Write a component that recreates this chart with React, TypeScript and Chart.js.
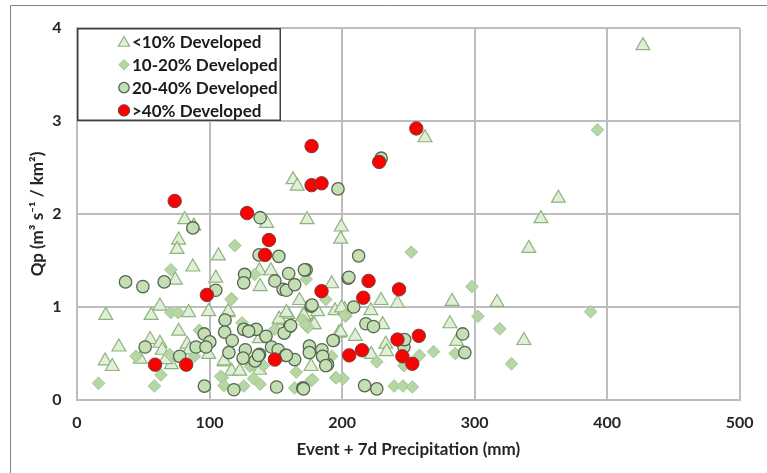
import React, { useEffect, useRef } from 'react';
import { Chart, registerables } from 'chart.js';

Chart.register(...registerables);

const seriesNames = ['<10% Developed', '10-20% Developed', '20-40% Developed', '>40% Developed'];

const xTicks = [0, 100, 200, 300, 400, 500];
const yTicks = [0, 1, 2, 3, 4];

const under10: number[][] = [
  [427, 3.81], [363.2, 2.17], [350, 1.95], [340.9, 1.63], [316.9, 1.05], [337.2, 0.64], [283, 1.06], [286.4, 0.63],
  [281.4, 0.82], [262.6, 2.82], [163, 2.37], [166.2, 2.3], [173.6, 1.94], [143.1, 1.9], [199.4, 1.86], [198.9, 1.73],
  [81.2, 1.94], [88.1, 1.87], [76.7, 1.72], [75.5, 1.62], [106.7, 1.55], [87.4, 1.43], [74.2, 1.29], [104.7, 1.31],
  [137.7, 1.39], [146.3, 1.39], [192.2, 1.25], [138.2, 1.22], [229.4, 1.07], [241.8, 1.04], [221.7, 0.96], [230.6, 0.81],
  [210, 0.685], [233, 0.6], [233.6, 0.52], [222, 0.49], [167.9, 1.07], [194.7, 0.96], [202, 0.97], [181.5, 0.95],
  [177.8, 0.81], [197.6, 0.72], [62.6, 1.01], [55.9, 0.91], [84.2, 0.94], [99.3, 0.95], [113.9, 0.94], [76.7, 0.74],
  [55.2, 0.65], [62.6, 0.61], [64.3, 0.535], [83.1, 0.6], [84.9, 0.54], [99.3, 0.49], [71.2, 0.38], [66.8, 0.435],
  [47.7, 0.44], [111.4, 0.41], [116.6, 0.31], [122.8, 0.31], [159.2, 0.92], [170.4, 0.9], [153, 0.85], [179, 0.81],
  [137.7, 0.66], [176.6, 0.36], [137.7, 0.32], [199.6, 0.99], [198.9, 0.73], [21.7, 0.91], [21.2, 0.42], [26.6, 0.36],
  [152.5, 0.87], [158, 0.94], [171.1, 0.91], [114.1, 0.95], [31.6, 0.57], [110.9, 0.42]
];

const from10to20: number[][] = [
  [392.7, 2.905], [298, 1.22], [302.5, 0.9], [319, 0.765], [327.8, 0.39], [387.5, 0.95], [252.2, 1.59], [285.4, 0.5],
  [258.4, 0.48], [269, 0.52], [246.7, 0.37], [226.2, 0.41], [239.3, 0.15], [246, 0.15], [253, 0.14], [200.9, 0.23],
  [195.2, 0.24], [176.6, 0.21], [172.9, 1.3], [187.7, 1.08], [202.6, 0.9], [170.4, 0.86], [174.1, 0.78], [192.2, 0.47],
  [70.8, 0.94], [76.2, 0.94], [116.6, 1.09], [92.3, 0.75], [88.6, 0.47], [63.3, 0.27], [58.4, 0.15], [109.7, 0.24],
  [125.8, 0.15], [130.7, 0.36], [124.5, 0.83], [172.4, 0.81], [149.3, 0.76], [165.4, 0.3], [177.8, 0.22], [195.7, 0.24],
  [133.2, 0.23], [164.2, 0.13], [138.2, 0.17], [132.7, 0.41], [140.7, 0.37], [202.1, 0.91], [119.1, 1.66], [70.8, 1.4],
  [134, 1.35], [16.2, 0.18], [44.5, 0.47], [108.4, 0.255], [110.9, 0.155], [116.4, 1.08], [70, 0.49], [133.2, 0.38]
];

const from20to40: number[][] = [
  [229.5, 2.6], [196.9, 2.27], [291, 0.71], [292.6, 0.51], [212.5, 1.55], [204.6, 1.31], [208.8, 1.0], [218, 0.82],
  [223.7, 0.79], [246.7, 0.57], [247.2, 0.65], [217, 0.155], [226.2, 0.12], [170.4, 0.13], [172.9, 1.4], [176.6, 1.01],
  [193.5, 0.64], [175.3, 0.58], [184.8, 0.54], [189, 0.38], [96, 0.71], [100.2, 0.625], [89.8, 0.57], [97.3, 0.57],
  [51.4, 0.57], [77.5, 0.47], [96.1, 0.15], [111.7, 0.86], [111.4, 0.73], [117.1, 0.64], [114.6, 0.51], [118.4, 0.11],
  [125.8, 0.76], [127, 0.54], [125.3, 0.45], [177.3, 1.02], [155.5, 1.19], [160.5, 0.79], [135.2, 0.76], [129.5, 0.74],
  [142.6, 0.685], [146.8, 0.57], [151.8, 0.54], [137.7, 0.49], [157.5, 0.48], [164.2, 0.435], [175.3, 0.51], [185.3, 0.47],
  [187.7, 0.37], [193.2, 0.64], [150.6, 0.14], [170.9, 0.12], [134.4, 0.42], [36.6, 1.27], [49.7, 1.22], [65.8, 1.27],
  [104.7, 1.18], [126.5, 1.35], [149.3, 1.28], [158, 1.18], [164.2, 1.24], [171.6, 1.4], [156.3, 0.72], [161.2, 0.8],
  [136.9, 0.48], [158, 0.48], [138.2, 1.96], [87.4, 1.85], [137.4, 1.56], [152.3, 1.545], [159.7, 1.36], [205.1, 1.32],
  [125.8, 1.26]
];

const over40: number[][] = [
  [73.7, 2.14], [128.3, 2.01], [177, 2.73], [177, 2.31], [184.5, 2.33], [144.8, 1.72], [141.9, 1.56], [98, 1.13],
  [184.5, 1.17], [256, 2.92], [228, 2.56], [220, 1.28], [216, 1.1], [243, 1.19], [241.8, 0.65], [257.9, 0.69],
  [245.5, 0.47], [253, 0.39], [205.4, 0.48], [215, 0.535], [58.9, 0.38], [82.4, 0.38], [149.3, 0.435]
];

const styles = [
  { shape: 'triangle', radius: 8, fill: '#e0efd8', stroke: '#8fb37e', width: 1.2 },
  { shape: 'rectRot', radius: 6.3, fill: '#b7d6a5', stroke: '#a2c78f', width: 1 },
  { shape: 'circle', radius: 6.2, fill: '#c5dfb4', stroke: '#566650', width: 1.3 },
  { shape: 'circle', radius: 6.7, fill: '#ff0000', stroke: '#6e4040', width: 1 }
];

const FONT = 'Lato, "Open Sans", Arial, sans-serif';

function drawMarker(ctx: CanvasRenderingContext2D, shape: string, x: number, y: number, r: number) {
  ctx.beginPath();
  if (shape === 'triangle') {
    let rad = 0;
    ctx.moveTo(x + Math.sin(rad) * r, y - Math.cos(rad) * r);
    rad += (2 * Math.PI) / 3;
    ctx.lineTo(x + Math.sin(rad) * r, y - Math.cos(rad) * r);
    rad += (2 * Math.PI) / 3;
    ctx.lineTo(x + Math.sin(rad) * r, y - Math.cos(rad) * r);
    ctx.closePath();
  } else if (shape === 'rectRot') {
    ctx.moveTo(x - r, y);
    ctx.lineTo(x, y - r);
    ctx.lineTo(x + r, y);
    ctx.lineTo(x, y + r);
    ctx.closePath();
  } else {
    ctx.arc(x, y, r, 0, Math.PI * 2);
  }
  ctx.fill();
  ctx.stroke();
}

const framePlugin = {
  id: 'frame',
  beforeDraw(chart: any) {
    const { ctx, width, height } = chart;
    ctx.save();
    ctx.fillStyle = '#ffffff';
    ctx.fillRect(0, 0, width, height);
    ctx.strokeStyle = '#7f7f7f';
    ctx.lineWidth = 1;
    ctx.beginPath();
    ctx.moveTo(10.5, height);
    ctx.lineTo(10.5, 5.5);
    ctx.lineTo(width, 5.5);
    ctx.stroke();
    ctx.restore();
  }
};

const boxLegendPlugin = {
  id: 'boxLegend',
  afterDatasetsDraw(chart: any) {
    const { ctx } = chart;
    const xs = chart.scales.x;
    const ys = chart.scales.y;
    const left = xs.getPixelForValue(xTicks[0]);
    const top = ys.getPixelForValue(yTicks[yTicks.length - 1]);
    const bottom = ys.getPixelForValue(yTicks[yTicks.length - 2]);
    const right = left + 204;
    ctx.save();
    ctx.fillStyle = '#ffffff';
    ctx.fillRect(left, top, right - left, bottom - top);
    ctx.strokeStyle = '#404040';
    ctx.lineWidth = 1.5;
    ctx.strokeRect(left + 0.75, top + 0.75, right - left - 1.5, bottom - top - 1.5);
    ctx.font = `bold 17px ${FONT}`;
    ctx.textBaseline = 'middle';
    ctx.textAlign = 'left';
    const rowStart = top + 14;
    const rowGap = 22.8;
    seriesNames.forEach((name, i) => {
      const cy = rowStart + i * rowGap;
      const st = styles[i];
      ctx.fillStyle = st.fill;
      ctx.strokeStyle = st.stroke;
      ctx.lineWidth = st.width;
      drawMarker(ctx, st.shape, left + 47, cy + (st.shape === 'triangle' ? 1 : 0), st.shape === 'triangle' ? 6.5 : st.radius - 1);
      ctx.fillStyle = '#1a1a1a';
      ctx.fillText(name, left + 55, cy + 1);
    });
    ctx.restore();
  }
};

export default function App() {
  const canvasRef = useRef<HTMLCanvasElement | null>(null);

  useEffect(() => {
    document.body.style.margin = '0';
    const canvas = canvasRef.current;
    if (!canvas) return;
    const allSeries = [under10, from10to20, from20to40, over40];
    const datasets = allSeries.map((pts, i) => ({
      label: seriesNames[i],
      data: pts.map(([x, y]) => ({ x, y })),
      pointStyle: styles[i].shape as any,
      pointRadius: styles[i].radius,
      pointHoverRadius: styles[i].radius,
      backgroundColor: styles[i].fill,
      borderColor: styles[i].stroke,
      borderWidth: styles[i].width,
      showLine: false,
      order: 3 - i
    }));
    const gridColor = '#bdbdbd';
    const chart = new Chart(canvas, {
      type: 'scatter',
      data: { datasets },
      options: {
        responsive: false,
        animation: false,
        events: [],
        layout: { padding: { left: 0, right: 17, top: 28, bottom: 0 } },
        plugins: {
          legend: { display: false },
          tooltip: { enabled: false }
        },
        scales: {
          x: {
            type: 'linear',
            min: xTicks[0],
            max: xTicks[xTicks.length - 1],
            afterBuildTicks: (scale: any) => {
              scale.ticks = xTicks.map((v) => ({ value: v }));
            },
            afterFit: (scale: any) => {
              scale.height = 73;
            },
            grid: { color: gridColor, lineWidth: 2, drawTicks: false },
            border: { display: true, color: gridColor, width: 2 },
            ticks: {
              padding: 13.4,
              color: '#262626',
              font: { family: FONT, size: 16, weight: 'bold' }
            },
            title: {
              display: true,
              text: 'Event + 7d Precipitation (mm)',
              color: '#262626',
              font: { family: FONT, size: 17, weight: 'bold' },
              padding: { top: 0, bottom: 12.8 }
            }
          },
          y: {
            type: 'linear',
            min: yTicks[0],
            max: yTicks[yTicks.length - 1],
            afterBuildTicks: (scale: any) => {
              scale.ticks = yTicks.map((v) => ({ value: v }));
            },
            afterFit: (scale: any) => {
              scale.width = 77;
            },
            grid: { color: gridColor, lineWidth: 2, drawTicks: false },
            border: { display: true, color: gridColor, width: 2 },
            ticks: {
              padding: 15.5,
              color: '#262626',
              font: { family: FONT, size: 16, weight: 'bold' }
            },
            title: {
              display: true,
              text: 'Qp (m³ s⁻¹ / km²)',
              color: '#262626',
              font: { family: FONT, size: 17, weight: 'bold' },
              padding: { top: 27.8, bottom: 0 }
            }
          }
        }
      },
      plugins: [framePlugin, boxLegendPlugin]
    });
    return () => {
      chart.destroy();
    };
  }, []);

  return (
    <div style={{ width: 767, height: 473 }}>
      <canvas ref={canvasRef} width={767} height={473} />
    </div>
  );
}
